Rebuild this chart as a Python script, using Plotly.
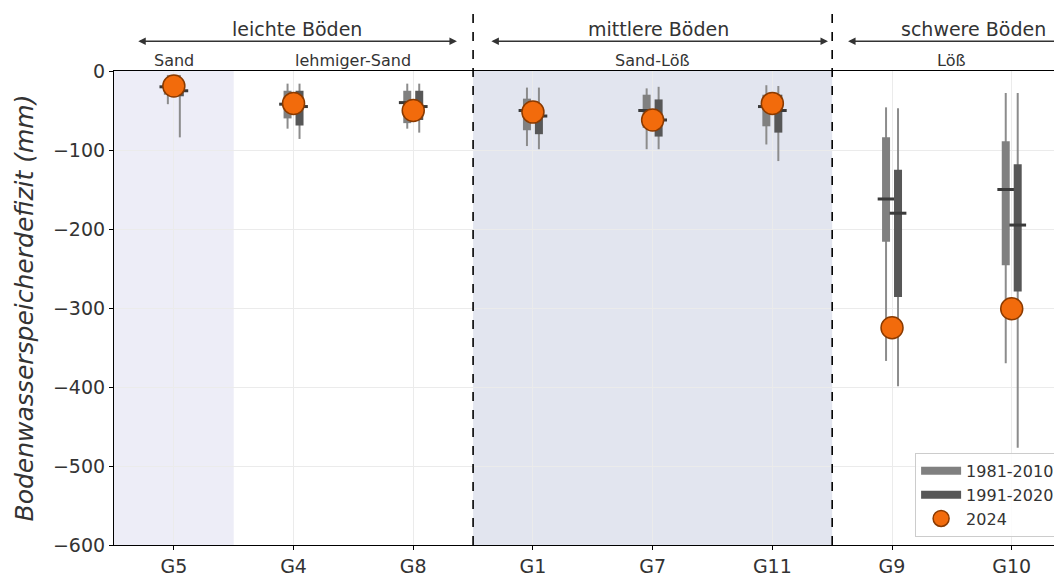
import plotly.graph_objects as go

# ---------------- data ----------------
sites = ["G5", "G4", "G8", "G1", "G7", "G11", "G9", "G10"]

# 1981-2010 climatology: whisker min/max, quartiles, median
p1_min = [-42, -73, -73, -95, -99, -93, -367, -370]
p1_q1 = [-30, -60, -66, -75, -72, -70, -216, -246]
p1_med = [-20, -42, -40, -50, -50, -45, -162, -150]
p1_q3 = [-12, -25, -25, -35, -30, -30, -84, -89]
p1_max = [-5, -16, -16, -21, -22, -18, -46, -28]

# 1991-2020 climatology
p2_min = [-84, -86, -78, -99, -99, -114, -399, -477]
p2_q1 = [-32, -69, -62, -80, -83, -78, -286, -279]
p2_med = [-25, -45, -45, -57, -62, -50, -180, -195]
p2_q3 = [-15, -25, -25, -45, -36, -30, -125, -118]
p2_max = [-5, -16, -16, -21, -20, -19, -47, -28]

# 2024
v2024 = [-19, -41, -50, -52, -62, -41, -325, -301]

groups = ["leichte Böden", "mittlere Böden", "schwere Böden"]
subgroups = ["Sand", "lehmiger-Sand", "Sand-Löß", "Löß"]

# --------------- figure ---------------
fig = go.Figure()

OFF = 0.05
MED_HALF = 0.07
col1 = "#808080"
col2 = "#575757"
whisk = "#8c8c8c"


def seg_vertical(xs, lo, hi):
    X, Y = [], []
    for x, a, b in zip(xs, lo, hi):
        X += [x, x, None]
        Y += [a, b, None]
    return X, Y


def seg_horizontal(xs, ys, h):
    X, Y = [], []
    for x, y in zip(xs, ys):
        X += [x - h, x + h, None]
        Y += [y, y, None]
    return X, Y


idx = list(range(len(sites)))
for label, off, mn, q1, med, q3, mx, col in [
    ("1981-2010", -OFF, p1_min, p1_q1, p1_med, p1_q3, p1_max, col1),
    ("1991-2020", OFF, p2_min, p2_q1, p2_med, p2_q3, p2_max, col2),
]:
    xs = [i + off for i in idx]
    X, Y = seg_vertical(xs, mn, mx)
    fig.add_trace(go.Scatter(x=X, y=Y, mode="lines", line=dict(color=whisk, width=2),
                             showlegend=False, hoverinfo="skip"))
    X, Y = seg_vertical(xs, q1, q3)
    fig.add_trace(go.Scatter(x=X, y=Y, mode="lines", line=dict(color=col, width=8),
                             name=label, showlegend=True, hoverinfo="skip"))
    X, Y = seg_horizontal(xs, med, MED_HALF)
    fig.add_trace(go.Scatter(x=X, y=Y, mode="lines", line=dict(color="#3a3a3a", width=3),
                             showlegend=False, hoverinfo="skip"))

fig.add_trace(go.Scatter(x=idx, y=v2024, mode="markers", name="2024",
                         marker=dict(size=22, color="#f26b0c",
                                     line=dict(color="#8a3a00", width=1.5))))

# shaded regions
fig.add_shape(type="rect", xref="x", yref="paper", x0=-0.5, x1=0.5, y0=0, y1=1,
              fillcolor="#ededf7", line_width=0, layer="below")
fig.add_shape(type="rect", xref="x", yref="paper", x0=2.5, x1=5.5, y0=0, y1=1,
              fillcolor="#e2e5ef", line_width=0, layer="below")

# dashed separators
for xv in [2.5, 5.5]:
    fig.add_shape(type="line", xref="x", yref="paper", x0=xv, x1=xv, y0=0, y1=1.16,
                  line=dict(color="black", width=1.6, dash="dash"))

# group arrows and labels
arrow_y = 1.063
for (x0, x1, xt), txt in zip([(-0.31, 2.365, 1.03), (2.64, 5.465, 4.05), (5.62, 7.45, 6.68)], groups):
    fig.add_annotation(xref="x", yref="paper", x=x1, y=arrow_y, axref="x", ayref="pixel",
                       ax=x0, ay=0, showarrow=True, arrowhead=2, arrowside="end+start",
                       arrowsize=1.0, arrowwidth=1.5, arrowcolor="#333333", text="")
    fig.add_annotation(xref="x", yref="paper", x=xt, y=1.088, text=txt, showarrow=False,
                       font=dict(size=19, color="#333333"), yanchor="middle")

for xs_, txt in zip([0, 1.5, 4.0, 6.5], subgroups):
    fig.add_annotation(xref="x", yref="paper", x=xs_, y=1.023, text=txt, showarrow=False,
                       font=dict(size=16, color="#333333"), yanchor="middle")

fig.update_layout(
    width=1054, height=569,
    margin=dict(l=106, r=0, t=63, b=29),
    plot_bgcolor="white", paper_bgcolor="white",
    font=dict(family="DejaVu Sans", color="#333333"),
    legend=dict(x=0.998, y=0.017, xanchor="right", yanchor="bottom",
                bgcolor="rgba(255,255,255,0.85)", bordercolor="#cccccc", borderwidth=1,
                font=dict(size=16), itemwidth=40, tracegroupgap=0),
)
fig.update_xaxes(range=[-0.5, 7.42], tickmode="array", tickvals=idx, ticktext=sites,
                 showgrid=True, gridcolor="#ebebeb", gridwidth=1,
                 showline=True, linecolor="black", linewidth=1.2, mirror=True,
                 ticks="outside", ticklen=4, tickcolor="black",
                 tickfont=dict(size=19), zeroline=False)
fig.update_yaxes(range=[-600, 0], dtick=100, showgrid=True, gridcolor="#ebebeb",
                 showline=True, linecolor="black", linewidth=1.2,
                 ticks="outside", ticklen=4, tickcolor="black",
                 tickfont=dict(size=19), zeroline=False,
                 title=dict(text="<i>Bodenwasserspeicherdefizit (mm)</i>",
                            font=dict(size=25), standoff=12))

fig.write_html("out.html")
